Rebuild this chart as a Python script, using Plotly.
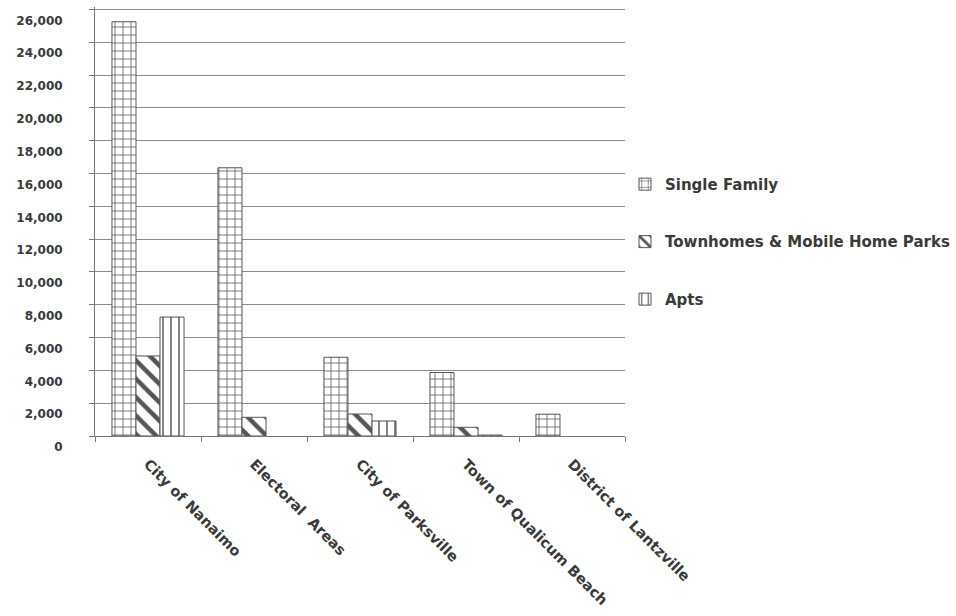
import plotly.graph_objects as go

# Dwelling counts by municipality and housing type (None = no dwellings of that type)
areas = ["City of Nanaimo", "Electoral\u00a0 Areas", "City of Parksville",
         "Town of Qualicum Beach", "District of Lantzville"]
single_family = [25250, 16350, 4800, 3870, 1330]
townhomes = [4880, 1140, 1340, 530, None]
apts = [7250, None, 915, 60, None]

y_ticks = list(range(0, 26001, 2000))

INK = "#3a3a3a"
FONT = "'DejaVu Sans', sans-serif"

fig = go.Figure()

series = [
    ("Single Family", single_family, dict(shape="+", size=8, solidity=0.18)),
    ("Townhomes & Mobile Home Parks", townhomes, dict(shape="\\", size=13, solidity=0.35)),
    ("Apts", apts, dict(shape="|", size=8, solidity=0.18)),
]

for i, (name, vals, pat) in enumerate(series):
    fig.add_trace(go.Bar(
        name=name,
        x=areas,
        y=vals,
        legendgroup=f"g{i}",
        marker=dict(
            color="white",
            line=dict(color="#555555", width=1),
            pattern=dict(fgcolor="#555555", bgcolor="white", fillmode="replace", **pat),
        ),
    ))

fig.update_layout(
    width=956,
    height=616,
    margin=dict(l=95, r=331, t=7, b=180, autoexpand=False),
    paper_bgcolor="white",
    plot_bgcolor="white",
    barmode="group",
    bargap=0.32,
    bargroupgap=0,
    font=dict(family=FONT, color=INK, size=13, weight="bold"),
    showlegend=True,
    legend=dict(
        x=1.0, y=0.625, xanchor="left", yanchor="top",
        tracegroupgap=35,
        font=dict(family=FONT, size=15, color=INK, weight="bold"),
        itemwidth=30,
        bgcolor="rgba(0,0,0,0)",
    ),
    xaxis=dict(
        type="category",
        automargin=False,
        tickangle=45,
        ticks="outside",
        tickson="boundaries",
        ticklen=5,
        tickcolor="#777777",
        showline=True,
        linecolor="#777777",
        linewidth=1,
        showgrid=False,
        ticklabelstandoff=13,
        tickfont=dict(family=FONT, size=14.5, color=INK, weight="bold"),
    ),
    yaxis=dict(
        automargin=False,
        range=[0, 26150],
        tickvals=y_ticks,
        tickformat=",d",
        ticks="outside",
        ticklen=5,
        tickcolor="#777777",
        showline=True,
        linecolor="#777777",
        linewidth=1,
        showgrid=True,
        gridcolor="#8c8c8c",
        gridwidth=1,
        zeroline=False,
        ticklabelshift=11,
        ticklabelstandoff=24,
        tickfont=dict(family=FONT, size=12, color=INK, weight="bold"),
    ),
)

fig.write_html("out.html")
